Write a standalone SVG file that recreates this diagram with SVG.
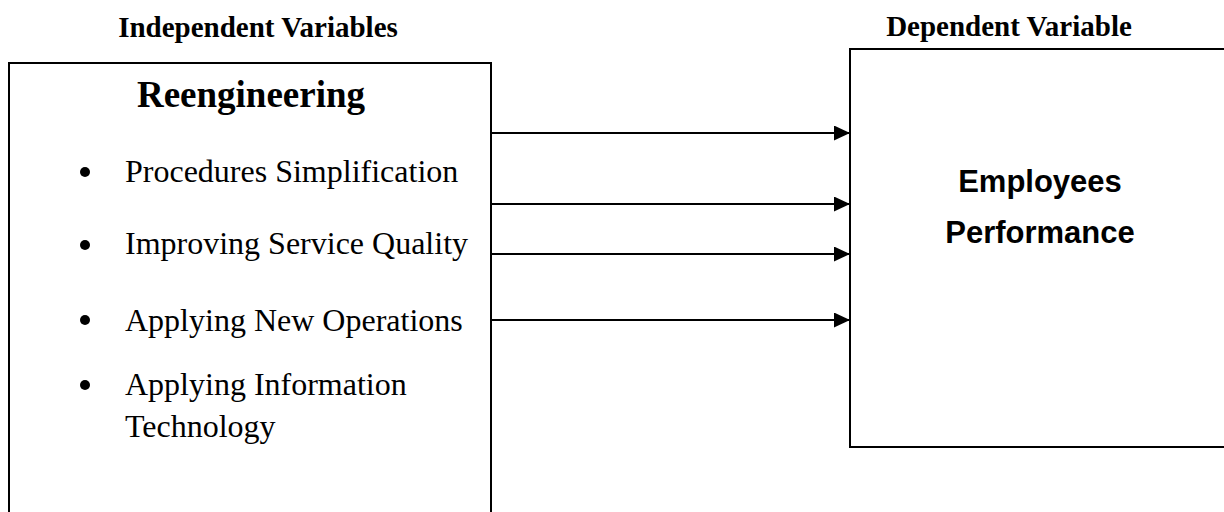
<svg xmlns="http://www.w3.org/2000/svg" width="1224" height="512" viewBox="0 0 1224 512">
<style>
.hdr{font-family:"Liberation Serif","Times New Roman",serif;font-weight:bold;font-size:29px;fill:#000}
.title{font-family:"Liberation Serif","Times New Roman",serif;font-weight:bold;font-size:37px;fill:#000}
.item{font-family:"Liberation Serif","Times New Roman",serif;font-size:32px;fill:#000}
.dep{font-family:"Liberation Sans",Arial,sans-serif;font-weight:bold;font-size:31px;fill:#000}
.box{fill:#fff;stroke:#000;stroke-width:2}
.conn{stroke:#000;stroke-width:2;fill:none}
</style>
<defs>
<marker id="arr" markerWidth="16" markerHeight="15" refX="16" refY="7.5" orient="auto" markerUnits="userSpaceOnUse">
<path d="M0,0 L16,7.5 L0,15 Z" fill="#000"/>
</marker>
</defs>
<rect width="1224" height="512" fill="#fff"/>
<text class="hdr" x="258" y="37" text-anchor="middle">Independent Variables</text>
<text class="hdr" x="1009" y="36" text-anchor="middle">Dependent Variable</text>
<g id="reengineering">
<rect class="box" x="9" y="63" width="482" height="470"/>
<text class="title" x="251" y="107" text-anchor="middle">Reengineering</text>
<circle cx="85" cy="172" r="5" fill="#000"/>
<text class="item" x="125" y="182">Procedures Simplification</text>
<circle cx="85" cy="245" r="5" fill="#000"/>
<text class="item" x="125" y="254">Improving Service Quality</text>
<circle cx="85" cy="320" r="5" fill="#000"/>
<text class="item" x="125" y="331">Applying New Operations</text>
<circle cx="85" cy="385" r="5" fill="#000"/>
<text class="item" x="125" y="395">Applying Information</text>
<text class="item" x="125" y="437">Technology</text>
</g>
<g id="employees-performance">
<rect class="box" x="850" y="49" width="390" height="398"/>
<text class="dep" x="1040" y="192" text-anchor="middle">Employees</text>
<text class="dep" x="1040" y="243" text-anchor="middle">Performance</text>
</g>
<g id="connectors">
<line class="conn" x1="492" y1="133" x2="850" y2="133" marker-end="url(#arr)"/>
<line class="conn" x1="492" y1="204" x2="850" y2="204" marker-end="url(#arr)"/>
<line class="conn" x1="492" y1="254" x2="850" y2="254" marker-end="url(#arr)"/>
<line class="conn" x1="492" y1="320" x2="850" y2="320" marker-end="url(#arr)"/>
</g>
</svg>
